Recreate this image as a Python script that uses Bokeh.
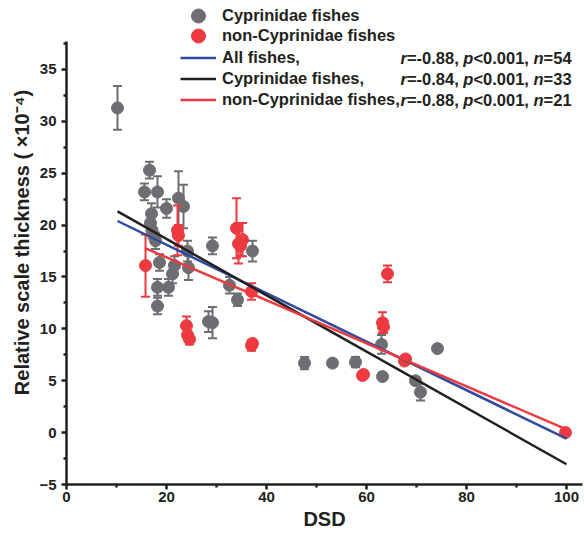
from bokeh.plotting import figure
from bokeh.models import ColumnDataSource, FixedTicker, Legend, LegendItem, Label, Range1d
from bokeh.embed import file_html
from bokeh.resources import INLINE

# ---------------- data ----------------
cyp_x = [10.2, 16.6, 15.6, 18.2, 20.0, 22.4, 23.4, 17.0, 16.8, 17.8, 18.6, 18.2, 18.2,
         20.4, 21.2, 21.6, 24.4, 24.2, 29.2, 32.6, 34.2, 28.4, 29.2, 37.2, 47.6, 53.2,
         57.8, 63.0, 63.2, 69.8, 70.8, 74.2, 17.1]
cyp_y = [31.3, 25.3, 23.2, 23.2, 21.6, 22.6, 21.8, 21.1, 20.2, 18.5, 16.4, 14.0, 12.2,
         14.0, 15.3, 16.1, 15.9, 17.5, 18.0, 14.2, 12.8, 10.7, 10.6, 17.5, 6.7, 6.7,
         6.8, 8.5, 5.4, 5.0, 3.9, 8.1, 19.5]
cyp_err = [2.1, 0.8, 0.8, 1.5, 0.9, 2.6, 2.1, 1.0, 0.8, 0.8, 0.8, 0.8, 0.8,
           0.8, 0.9, 0.9, 1.2, 1.0, 0.8, 0.8, 0.6, 1.0, 1.5, 1.0, 0.6, 0.0,
           0.5, 0.9, 0.0, 0.0, 0.8, 0.0, 0.8]

non_x = [15.8, 22.2, 24.0, 24.6, 37.0, 34.0, 34.4, 35.2, 37.0, 59.2, 63.2, 64.2, 67.6,
         99.8, 34.8, 24.2, 59.4, 63.4, 22.4, 37.2, 67.8]
non_y = [16.1, 19.5, 10.3, 9.0, 8.4, 19.7, 18.2, 18.6, 13.6, 5.5, 10.6, 15.3, 6.9,
         0.0, 18.0, 9.4, 5.6, 10.2, 19.0, 8.6, 7.1]
non_err = [3.0, 2.4, 0.9, 0.5, 0.5, 2.9, 1.9, 1.6, 0.8, 0.0, 1.0, 0.8, 0.3,
           0.3, 1.0, 0.4, 0.0, 0.6, 1.0, 0.3, 0.2]

fit_labels = ["All fishes,", "Cyprinidae fishes,", "non-Cyprinidae fishes,"]
fit_slope = [-0.2336, -0.2715, -0.2073]
fit_intercept = [22.78, 24.10, 21.04]
fit_xmin = [10.2, 10.2, 15.8]
fit_xmax = [100.0, 100.0, 100.0]
fit_r = ["-0.88", "-0.84", "-0.88"]
fit_p = ["0.001", "0.001", "0.001"]
fit_n = ["54", "33", "21"]

x_ticks = [0, 20, 40, 60, 80, 100]
y_ticks = [-5, 0, 5, 10, 15, 20, 25, 30, 35]

# ---------------- style ----------------
GREY = "#6d6e71"
RED = "#ec3a40"
BLUE = "#2f4a9f"
BLACK = "#231f20"
FONT = "Liberation Sans"

FW, FH = 516, 484
p = figure(frame_width=FW, frame_height=FH,
           x_range=Range1d(0, 103.2), y_range=Range1d(-5, 41.65),
           output_backend="svg", toolbar_location=None,
           min_border_left=66, min_border_right=2, min_border_top=0, min_border_bottom=10)
p.outline_line_color = None
p.grid.visible = False
p.background_fill_color = "white"

p.xaxis.ticker = FixedTicker(ticks=x_ticks,
                             minor_ticks=[t + 10 for t in x_ticks[:-1]])
p.yaxis.ticker = FixedTicker(ticks=y_ticks,
                             minor_ticks=[t + 2.5 for t in y_ticks])
p.yaxis.bounds = (-5, 37.7)

for ax in (p.xaxis[0], p.yaxis[0]):
    ax.axis_line_width = 2.5
    ax.axis_line_color = BLACK
    ax.major_tick_line_width = 2.5
    ax.minor_tick_line_width = 2.5
    ax.major_tick_line_color = BLACK
    ax.minor_tick_line_color = BLACK
    ax.major_tick_in = 0
    ax.major_tick_out = 5
    ax.minor_tick_in = 0
    ax.minor_tick_out = 3
    ax.major_label_text_font = FONT
    ax.major_label_text_font_style = "bold"
    ax.major_label_text_font_size = "15px"
    ax.major_label_text_color = BLACK
    ax.axis_label_text_font = FONT
    ax.axis_label_text_font_style = "bold"
    ax.axis_label_text_font_size = "20px"
    ax.axis_label_text_color = BLACK

p.xaxis.axis_label = "DSD"
p.xaxis.major_label_standoff = 2
p.xaxis.axis_label_standoff = 3
p.yaxis.axis_label = "Relative scale thickness ( \u00d710\u207b\u2074)"
p.yaxis.major_label_standoff = 5
p.yaxis.axis_label_standoff = 3


def group(xs, ys, errs, color):
    src = ColumnDataSource(dict(x=xs, y=ys,
                                lo=[y - e for y, e in zip(ys, errs)],
                                hi=[y + e for y, e in zip(ys, errs)]))
    p.segment(x0="x", y0="lo", x1="x", y1="hi", source=src,
              line_color=color, line_width=2)
    p.scatter(x="x", y="hi", marker="dash", size=9, line_color=color,
              line_width=2, source=src)
    p.scatter(x="x", y="lo", marker="dash", size=9, line_color=color,
              line_width=2, source=src)
    return p.scatter(x="x", y="y", size=12, fill_color=color, line_color=color,
                     source=src)


rc = group(cyp_x, cyp_y, cyp_err, GREY)
rn = group(non_x, non_y, non_err, RED)

line_renderers = []
for s, b, x0, x1, col in zip(fit_slope, fit_intercept, fit_xmin, fit_xmax,
                              [BLUE, BLACK, RED]):
    line_renderers.append(
        p.line(x=[x0, x1], y=[s * x0 + b, s * x1 + b], line_color=col, line_width=2.5))

FS = 16.5
ROWS = [15, 35.5, 57, 78, 99]   # canvas y of legend row centres
LEG_X = 114                      # legend glyph left edge, relative to frame


def make_legend(items, top, gh):
    height = len(items) * gh
    return Legend(items=items, location=(LEG_X, FH - (top + height)),
                  orientation="vertical", padding=0, margin=0, spacing=0,
                  glyph_height=gh, glyph_width=36, label_standoff=6, label_height=gh,
                  label_text_font=FONT, label_text_font_style="bold",
                  label_text_font_size=f"{FS}px", label_text_color=BLACK,
                  border_line_alpha=0, background_fill_alpha=0)


# marker legend entries (one per legend so the marker swatch can be large)
MGH = 35
p.add_layout(make_legend([LegendItem(label="Cyprinidae fishes", renderers=[rc])],
                         ROWS[0] - MGH / 2, MGH))
p.add_layout(make_legend([LegendItem(label="non-Cyprinidae fishes", renderers=[rn])],
                         ROWS[1] - MGH / 2, MGH))
# regression line entries
LGH = 21
p.add_layout(make_legend([LegendItem(label=lab, renderers=[r])
                          for lab, r in zip(fit_labels, line_renderers)],
                         ROWS[2] - LGH / 2, LGH))

# statistics text with italic symbols
W = {'r': 389, '=': 584, '-': 333, '.': 278, ',': 278, ' ': 278, 'p': 611, '<': 584,
     'n': 611}


def width(t):
    return sum(W.get(c, 556) for c in t) * FS / 1000.0


for i in range(3):
    pieces = [("r", True), ("=" + fit_r[i] + ", ", False),
              ("p", True), ("<" + fit_p[i] + ", ", False),
              ("n", True), ("=" + fit_n[i], False)]
    xpos = 334
    ypos = FH - ROWS[i + 2]
    for txt, ital in pieces:
        p.add_layout(Label(x=xpos, y=ypos, x_units="screen", y_units="screen",
                           text=txt, text_font=FONT,
                           text_font_style="bold italic" if ital else "bold",
                           text_font_size=f"{FS}px", text_color=BLACK,
                           text_baseline="middle", text_align="left"))
        xpos += width(txt)

open("out.html", "w").write(file_html(p, INLINE))
